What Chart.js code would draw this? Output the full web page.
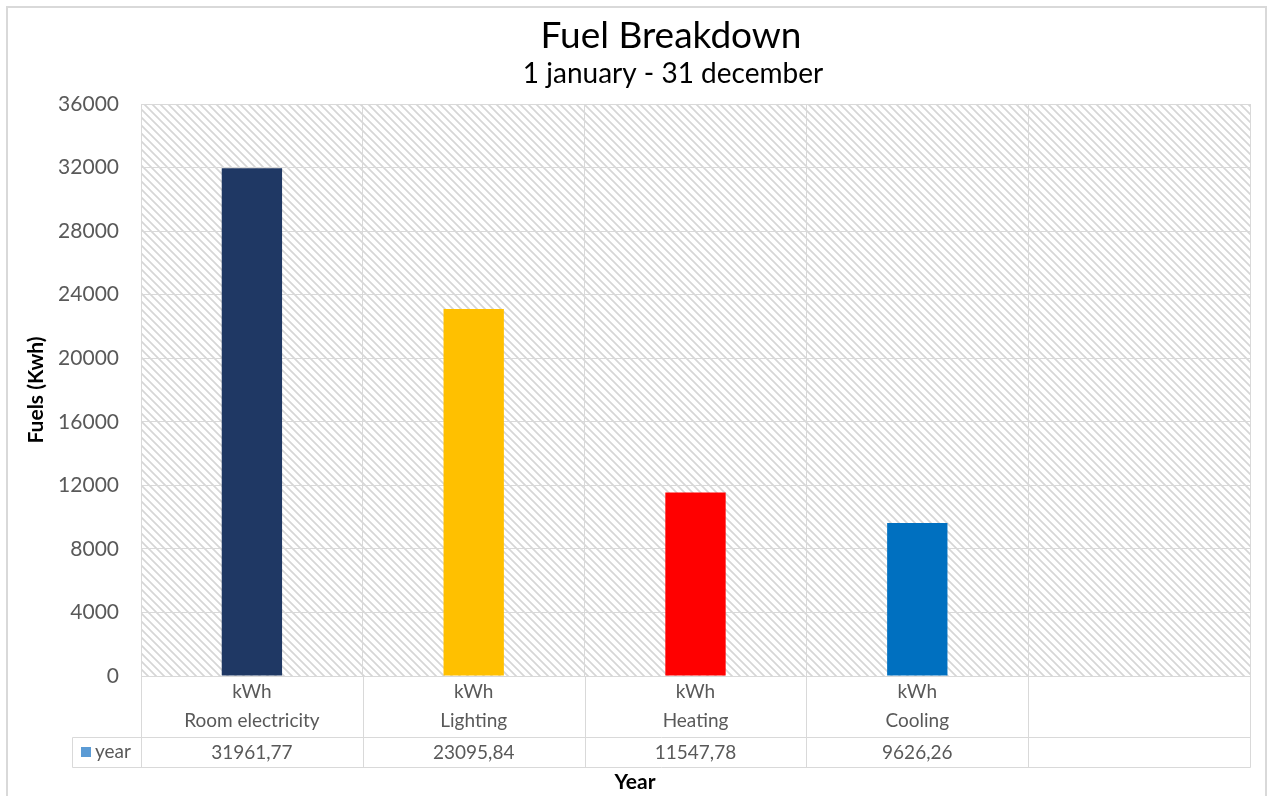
<!DOCTYPE html>
<html>
<head>
<meta charset="utf-8">
<script src="https://cdn.jsdelivr.net/npm/chart.js@4/dist/chart.umd.min.js"></script>
<style>
html,body{margin:0;padding:0;background:#fff;}
#wrap{width:1268px;height:796px;position:relative;}
</style>
</head>
<body>
<div id="wrap"><canvas id="c" width="1268" height="796"></canvas></div>
<script>
const categories = ["Room electricity", "Lighting", "Heating", "Cooling", ""];
const units = ["kWh", "kWh", "kWh", "kWh", ""];
const seriesName = "year";
const values = [31961.77, 23095.84, 11547.78, 9626.26, null];
const valueLabels = ["31961,77", "23095,84", "11547,78", "9626,26", ""];
const barColors = ["#1F3864", "#FFC000", "#FF0000", "#0070C0", "#0070C0"];
const yTicks = {min: 0, max: 36000, step: 4000};
const titleText = "Fuel Breakdown";
const subtitleText = "1 january - 31 december";
const xTitle = "Year";
const yTitle = "Fuels (Kwh)";

const FONT = "Lato, 'Open Sans', sans-serif";
const GRID = "#D9D9D9";
const TXT = "#595959";

function makePattern(ctx) {
  const p = document.createElement('canvas');
  p.width = 8; p.height = 8;
  const g = p.getContext('2d');
  g.fillStyle = '#ffffff';
  g.fillRect(0, 0, 8, 8);
  g.strokeStyle = '#D6D6D6';
  g.lineWidth = 1.7;
  g.beginPath();
  g.moveTo(-2, -2); g.lineTo(10, 10);
  g.moveTo(-10, -2); g.lineTo(2, 10);
  g.moveTo(6, -2); g.lineTo(18, 10);
  g.stroke();
  return ctx.createPattern(p, 'repeat');
}

const bgPlugin = {
  id: 'bgPlugin',
  beforeDraw(chart) {
    const {ctx, chartArea: a} = chart;
    ctx.save();
    ctx.fillStyle = '#fff';
    ctx.fillRect(0, 0, chart.width, chart.height);
    ctx.strokeStyle = '#D9D9D9';
    ctx.lineWidth = 2;
    ctx.strokeRect(7, 7, 1259, 820);
    ctx.fillStyle = makePattern(ctx);
    ctx.fillRect(a.left, a.top, a.right - a.left, a.bottom - a.top);
    // titles
    ctx.fillStyle = '#000';
    ctx.textAlign = 'center';
    ctx.textBaseline = 'middle';
    ctx.font = "37px " + FONT;
    ctx.fillText(titleText, 671, 36);
    ctx.font = "28px " + FONT;
    ctx.fillText(subtitleText, 673, 74);
    ctx.font = "bold 21px " + FONT;
    ctx.fillText(xTitle, 635, 782);
    ctx.restore();
  },
  afterDraw(chart) {
    const {ctx, chartArea: a, scales} = chart;
    const x = scales.x;
    const n = categories.length;
    const half = (x.getPixelForValue(1) - x.getPixelForValue(0)) / 2;
    const rowTop = a.bottom, rowMid = 737, rowBot = 767, legendLeft = 72;
    ctx.save();
    ctx.strokeStyle = GRID;
    ctx.lineWidth = 1;
    ctx.beginPath();
    ctx.rect(Math.round(a.left) + 0.5, Math.round(a.top) + 0.5, Math.round(a.right - a.left), Math.round(a.bottom - a.top));
    ctx.moveTo(legendLeft + 0.5, rowMid + 0.5); ctx.lineTo(a.right + 0.5, rowMid + 0.5);
    ctx.moveTo(legendLeft + 0.5, rowBot + 0.5); ctx.lineTo(a.right + 0.5, rowBot + 0.5);
    ctx.moveTo(legendLeft + 0.5, rowMid + 0.5); ctx.lineTo(legendLeft + 0.5, rowBot + 0.5);
    for (let i = 0; i <= n; i++) {
      const px = Math.round(i < n ? x.getPixelForValue(i) - half : x.getPixelForValue(n - 1) + half) + 0.5;
      ctx.moveTo(px, rowTop); ctx.lineTo(px, rowBot + 0.5);
    }
    ctx.stroke();
    ctx.fillStyle = TXT;
    ctx.textAlign = 'center';
    ctx.textBaseline = 'middle';
    ctx.font = "19px " + FONT;
    for (let i = 0; i < n; i++) {
      const cx = x.getPixelForValue(i);
      ctx.fillText(units[i], cx, 692);
      ctx.fillText(categories[i], cx, 721);
      ctx.fillText(valueLabels[i], cx, 753);
    }
    ctx.fillStyle = '#5B9BD5';
    ctx.fillRect(81, 747, 10, 10);
    ctx.fillStyle = TXT;
    ctx.textAlign = 'left';
    ctx.fillText(seriesName, 95, 752);
    ctx.restore();
  }
};

new Chart(document.getElementById('c'), {
  type: 'bar',
  data: {
    labels: categories,
    datasets: [{
      label: seriesName,
      data: values,
      backgroundColor: barColors,
      borderWidth: 0,
      categoryPercentage: 1,
      barPercentage: 0.272
    }]
  },
  options: {
    responsive: false,
    animation: false,
    layout: {padding: {top: 104, right: 18, left: 0, bottom: 0}},
    plugins: {legend: {display: false}, tooltip: {enabled: false}, title: {display: false}},
    scales: {
      x: {
        grid: {color: GRID, lineWidth: 1, offset: true, drawTicks: false},
        border: {display: false},
        ticks: {display: false},
        afterFit(s) { s.height = 120; }
      },
      y: {
        min: yTicks.min, max: yTicks.max,
        ticks: {stepSize: yTicks.step, color: TXT, font: {family: FONT, size: 21}, padding: 22,
                callback: v => String(v)},
        grid: {color: GRID, lineWidth: 1, drawTicks: false},
        border: {display: false},
        title: {display: true, text: yTitle, color: '#000', font: {family: FONT, size: 21, weight: 'bold'}, padding: {top: 24, bottom: 0}},
        afterFit(s) { s.width = 141; }
      }
    }
  },
  plugins: [bgPlugin]
});
</script>
</body>
</html>
